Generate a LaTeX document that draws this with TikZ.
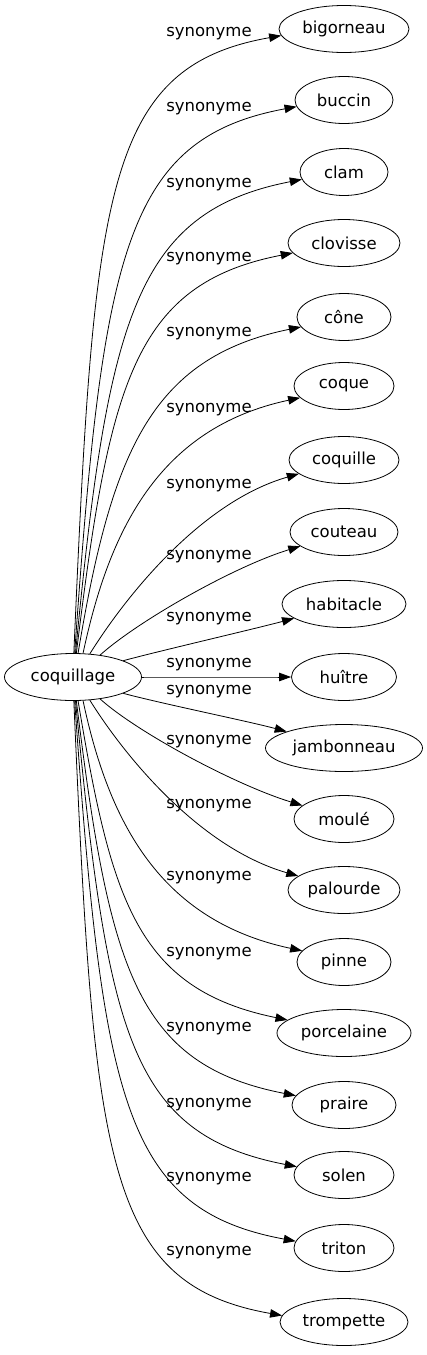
\documentclass[tikz,border=0pt]{standalone}
\usepackage{fontspec}
\setmainfont{DejaVu Sans}
\usetikzlibrary{arrows.meta,shapes.geometric}
\tikzset{
  word/.style={draw,ellipse,line width=0.8pt,minimum height=47pt,inner sep=0pt,font=\fontsize{16.5}{18}\selectfont},
  syn/.style={line width=0.8pt,-{Triangle[length=12pt,width=8.5pt]}},
  synlabel/.style={font=\fontsize{16.5}{18}\selectfont,inner sep=0pt}
}
\begin{document}
\begin{tikzpicture}[x=1pt,y=-1pt]
  \useasboundingbox (0,0) rectangle (427,1355);
  \node[word,minimum width=137pt] (coquillage) at (73,677) {coquillage};
  % targets and their labels
  \foreach \nm/\txt/\ty/\ly/\w in {
    bigorneau/bigorneau/29/34/130, buccin/buccin/100/109/98,
    clam/clam/172/185/88, clovisse/clovisse/243/259/112,
    cone/cône/317/334/94, coque/coque/386/410/100,
    coquille/coquille/460/486/110, couteau/couteau/532/557/108,
    habitacle/habitacle/604/619/124, huitre/huître/677/665/105,
    jambonneau/jambonneau/748/692/157, moule/moulé/819/742/100,
    palourde/palourde/890/806/112, pinne/pinne/962/878/94,
    porcelaine/porcelaine/1033/954/134, praire/praire/1105/1029/104,
    solen/solen/1175/1105/100, triton/triton/1248/1179/100,
    trompette/trompette/1322/1253/128}{
    \node[word,minimum width=\w pt] (\nm) at (344,\ty) {\txt};
    \node[synlabel] (lab-\nm) at (209,\ly) {synonyme};
  }
  % edges: start anchor, out angle, length, end anchor, in angle, length
  \foreach \nm/\as/\out/\la/\ae/\in/\lb in {
    bigorneau/88/87.5/460/186/190/180, buccin/86/86/400/188/190.5/175,
    clam/84/84.5/335/190/191/170, clovisse/82/83/270/191/191/163,
    cone/78/80.5/200/193/191.5/155, coque/67/78/125/195/192/145,
    coquille/54/58/72/197/196/100, couteau/39/42/50/198/197/70,
    habitacle/18/15/40/196/195/40, huitre/0/0/40/180/180/40,
    jambonneau/-18/-15/40/164/165/40, moule/-39/-42/50/162/163/70,
    palourde/-54/-58/72/163/164/100, pinne/-67/-78/125/165/168/145,
    porcelaine/-78/-80.5/200/167/168.5/155, praire/-82/-83/270/169/169/163,
    solen/-84/-84.5/335/170/169/170, triton/-86/-86/400/172/169.5/175,
    trompette/-88/-87.5/460/174/170/180}
    \draw[syn] (coquillage.\as) .. controls +(\out:\la pt) and +(\in:\lb pt) .. (\nm.\ae);
\end{tikzpicture}
\end{document}
